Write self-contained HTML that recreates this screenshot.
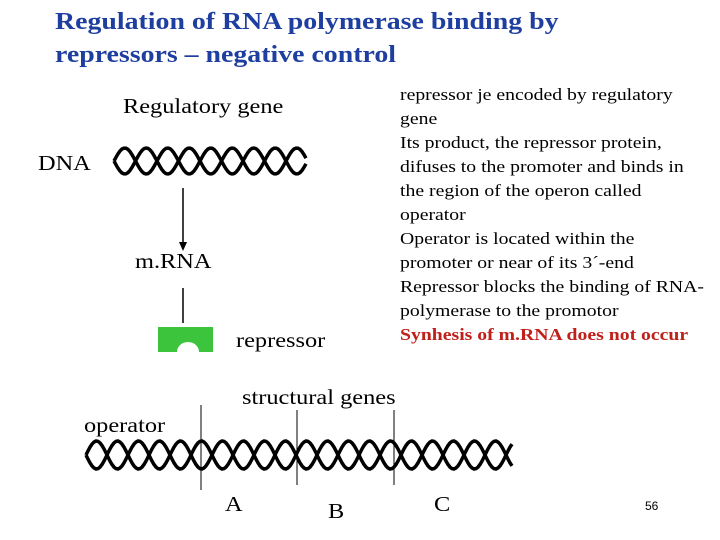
<html><head><style>
body{margin:0;width:720px;height:540px;background:#fff;position:relative;overflow:hidden;font-family:"Liberation Serif",serif}
.t{position:absolute;white-space:nowrap;transform-origin:0 0;transform:scaleX(1.16)}
</style></head><body>
<div class="t" style="left:55px;top:6px;color:#1f3fa0;font-weight:bold;font-size:24px;line-height:33px">Regulation of RNA polymerase binding by<br>repressors – negative control</div>
<div class="t" style="left:123px;top:94px;font-size:21px">Regulatory gene</div>
<div class="t" style="left:38px;top:151px;font-size:21px">DNA</div>
<div class="t" style="left:135px;top:249px;font-size:21px">m.RNA</div>
<div class="t" style="left:236px;top:328px;font-size:21px">repressor</div>
<div class="t" style="left:242px;top:385px;font-size:21px">structural genes</div>
<div class="t" style="left:84px;top:413px;font-size:21px">operator</div>
<div class="t" style="left:225px;top:492px;font-size:21px">A</div>
<div class="t" style="left:328px;top:499px;font-size:21px">B</div>
<div class="t" style="left:434px;top:492px;font-size:21px">C</div>
<div class="t" style="left:645px;top:499px;font-size:12px;font-family:'Liberation Sans',sans-serif;transform:none">56</div>
<div class="t" style="left:400px;top:83px;font-size:17px;line-height:24px">repressor je encoded by regulatory<br>gene<br>Its product, the repressor protein,<br>difuses to the promoter and binds in<br>the region of the operon called<br>operator<br>Operator is located within the<br>promoter or near of its 3´-end<br>Repressor blocks the binding of RNA-<br>polymerase to the promotor<br><span style="color:#c0201a;font-weight:bold">Synhesis of m.RNA does not occur</span></div>
<svg width="720" height="540" style="position:absolute;left:0;top:0">
<g id="h" fill="none" stroke="#000" stroke-width="3.5"></g>
<line x1="183" y1="188" x2="183" y2="244" stroke="#000" stroke-width="1.5"/>
<polygon points="179,242 187,242 183,251" fill="#000"/>
<line x1="183" y1="288" x2="183" y2="323" stroke="#000" stroke-width="1.5"/>
<path d="M158,327 H213 V352 H199 A11,10 0 0 0 177,352 H158 Z" fill="#3cc43c"/>
<line x1="201" y1="405" x2="201" y2="490" stroke="#000" stroke-width="1"/>
<line x1="297" y1="410" x2="297" y2="485" stroke="#000" stroke-width="1"/>
<line x1="394" y1="410" x2="394" y2="485" stroke="#000" stroke-width="1"/>
</svg>
<script>
function helix(x0,x1,cy,A,half){var s1="",s2="";for(var x=x0;x<=x1;x+=2){var y=A*Math.sin(Math.PI*(x-x0)/half);s1+=(x==x0?"M":"L")+x+","+(cy+y).toFixed(1);s2+=(x==x0?"M":"L")+x+","+(cy-y).toFixed(1);}return '<path d="'+s1+'"/><path d="'+s2+'"/>';}
document.getElementById("h").innerHTML=helix(114,307,161,13,21.5)+helix(86,512,455,14,21);
</script>
</body></html>
